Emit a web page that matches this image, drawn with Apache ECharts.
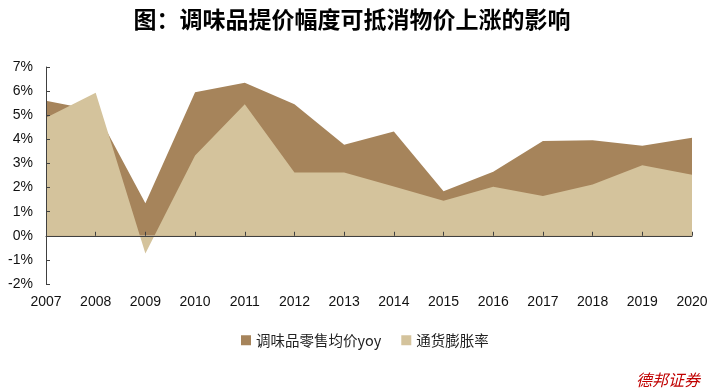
<!DOCTYPE html>
<html>
<head>
<meta charset="utf-8">
<script src="https://cdn.jsdelivr.net/npm/echarts@6/dist/echarts.min.js"></script>
<style>html,body{margin:0;padding:0;background:#fff;}#c{width:714px;height:391px;}</style>
</head>
<body>
<div id="c"></div>
<script>
var titleText = '图：调味品提价幅度可抵消物价上涨的影响';
var years = ['2007','2008','2009','2010','2011','2012','2013','2014','2015','2016','2017','2018','2019','2020'];
var seasoningName = '调味品零售均价yoy';
var seasoning = [5.6, 5.2, 1.35, 5.95, 6.35, 5.45, 3.78, 4.32, 1.85, 2.66, 3.93, 3.96, 3.73, 4.07];
var cpiName = '通货膨胀率';
var cpi = [4.9, 5.93, -0.73, 3.33, 5.45, 2.62, 2.62, 2.04, 1.45, 2.03, 1.65, 2.13, 2.93, 2.53];
var yMin = -2, yMax = 7, yStep = 1;
var sourceText = '德邦证券';

var darkC = '#A6845B', lightC = '#D4C39C', axisC = '#404040';
var chart = echarts.init(document.getElementById('c'), null, {renderer: 'canvas'});
chart.setOption({
  animation: false,
  backgroundColor: '#fff',
  title: {
    text: titleText, left: 347, top: 3, textAlign: 'center',
    textStyle: {fontFamily: 'Noto Sans CJK SC', fontSize: 23, fontWeight: 'bold', color: '#000'}
  },
  legend: {
    data: [seasoningName, cpiName], left: 236, top: 328,
    itemWidth: 10, itemHeight: 10, itemGap: 20, icon: 'rect',
    textStyle: {fontFamily: 'Noto Sans CJK SC', fontSize: 14.5, color: '#222'}
  },
  grid: {left: 46, right: 22, top: 67, bottom: 107, containLabel: false},
  xAxis: [{
    type: 'category', data: years, boundaryGap: false,
    axisLine: {show: false, onZero: false}, axisTick: {show: false},
    axisLabel: {fontFamily: 'Arial, Liberation Sans', fontSize: 14, color: '#111', margin: 11}
  }, {
    type: 'category', data: years, boundaryGap: false, position: 'bottom',
    axisLine: {show: true, onZero: true, lineStyle: {color: axisC, width: 1}},
    axisTick: {show: true, inside: true, length: 4, lineStyle: {color: axisC}},
    axisLabel: {show: false}, z: 10
  }],
  yAxis: {
    type: 'value', min: yMin, max: yMax, interval: yStep,
    axisLine: {show: true, lineStyle: {color: axisC, width: 1}},
    axisTick: {show: true, inside: true, length: 4, lineStyle: {color: axisC}},
    splitLine: {show: false},
    axisLabel: {formatter: '{value}%', fontFamily: 'Arial, Liberation Sans', fontSize: 14, color: '#111', margin: 13},
    z: 10
  },
  series: [{
    name: seasoningName, type: 'line', data: seasoning, showSymbol: false, symbol: 'none',
    lineStyle: {width: 0, color: darkC}, itemStyle: {color: darkC},
    areaStyle: {color: darkC, opacity: 1}, z: 2
  }, {
    name: cpiName, type: 'line', data: cpi, showSymbol: false, symbol: 'none',
    lineStyle: {width: 0, color: lightC}, itemStyle: {color: lightC},
    areaStyle: {color: lightC, opacity: 1}, z: 3
  }],
  graphic: [{
    type: 'text', left: 636, top: 372,
    style: {text: sourceText, fill: '#C00000', font: 'italic 16px "Noto Sans CJK SC"'}
  }]
});
</script>
</body>
</html>
